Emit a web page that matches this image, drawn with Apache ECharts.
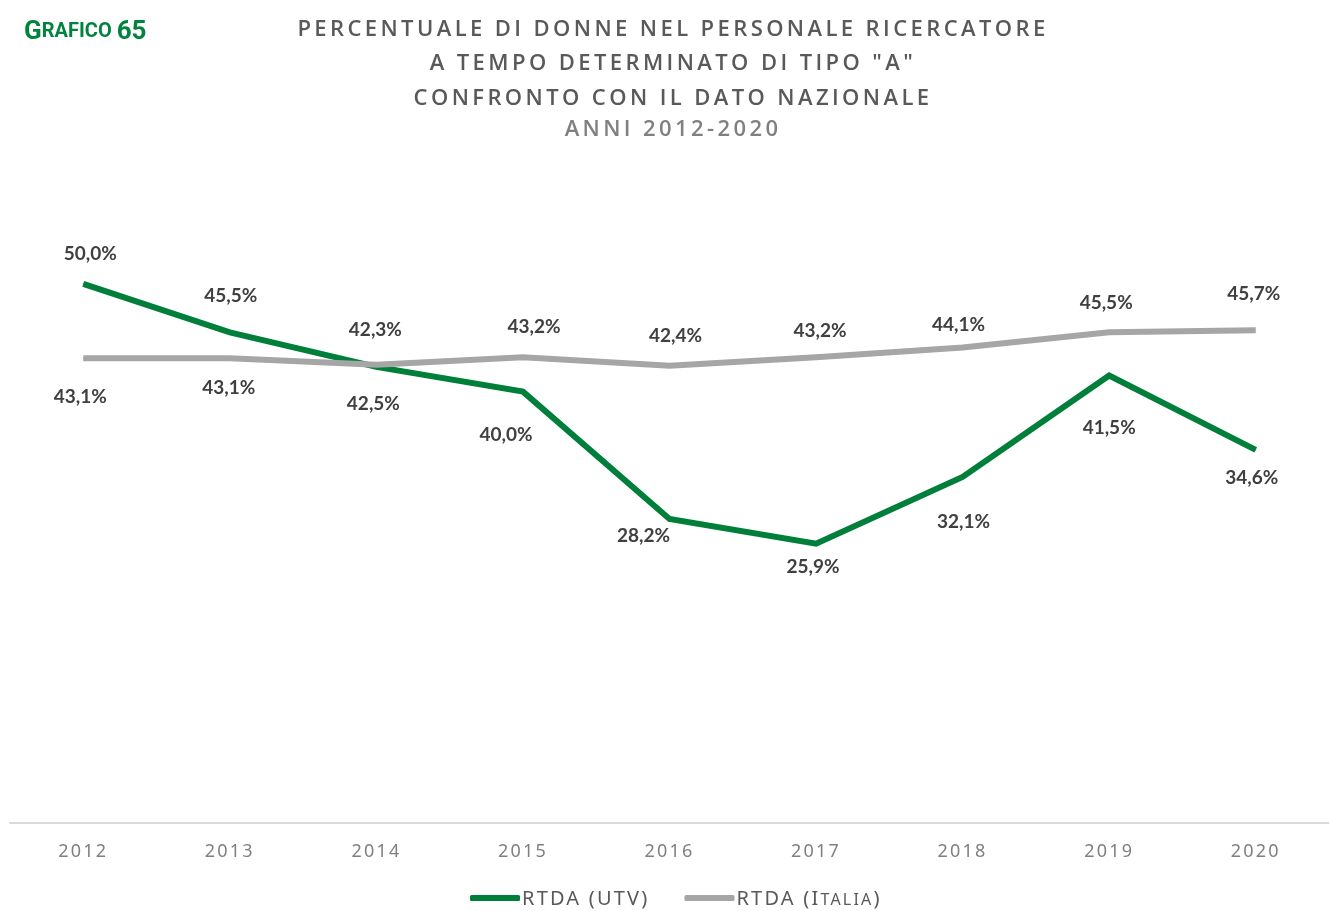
<!DOCTYPE html>
<html><head><meta charset="utf-8">
<script src="https://cdn.jsdelivr.net/npm/echarts@6/dist/echarts.min.js"></script>
<style>html,body{margin:0;padding:0;background:#fff}#c{width:1329px;height:911px}</style>
</head><body><div id="c"></div>
<script>
const years = ['2012','2013','2014','2015','2016','2017','2018','2019','2020'];
const utv = [50.0, 45.5, 42.3, 40.0, 28.2, 25.9, 32.1, 41.5, 34.6];
const italia = [43.1, 43.1, 42.5, 43.2, 42.4, 43.2, 44.1, 45.5, 45.7];
const seriesNames = ['RTDA (UTV)', 'RTDA (Italia)'];
const titleLines = ['PERCENTUALE DI DONNE NEL PERSONALE RICERCATORE', 'A TEMPO DETERMINATO DI TIPO "A"', 'CONFRONTO CON IL DATO NAZIONALE'];
const subtitle = 'ANNI 2012-2020';

// label placement offsets in px relative to the point (style only)
const utvLabelOffset = [[7,-30],[1,-36],[-1,-37],[-17,43],[-26,17],[-3,23],[1,45],[0,52],[-4,28]];
const itaLabelOffset = [[-3,39],[-1,30],[-3,39],[11,-30],[6,-30],[4,-26],[-4,-23],[-3,-29],[-2,-36]];

// letter spacing emulation for specific font families
(function(){
  const map = [['Open Sans','3.4px'],['Noto Sans','2.2px']];
  const ls = f => { for (const [k,v] of map) if (f.indexOf(k) >= 0) return v; return '0px'; };
  const P = CanvasRenderingContext2D.prototype;
  if (!('letterSpacing' in P)) return;
  const oF = P.fillText, oM = P.measureText;
  P.fillText = function(t,x,y,w){ const p=this.letterSpacing; this.letterSpacing=ls(this.font);
    const r = (w===undefined) ? oF.call(this,t,x,y) : oF.call(this,t,x,y,w); this.letterSpacing=p; return r; };
  P.measureText = function(t){ const p=this.letterSpacing; this.letterSpacing=ls(this.font);
    const r = oM.call(this,t); this.letterSpacing=p; return r; };
})();

const GREEN = '#007F3A', GREY = '#A6A6A6';
const fmt = v => v.toFixed(1).replace('.', ',') + '%';
const lblStyle = {fontFamily:'Lato', fontWeight:'bold', fontSize:19, color:'#404040'};
function mk(vals, offs) {
  return vals.map((v,i)=>({value:v, label:Object.assign({show:true, position:'inside', offset:offs[i], formatter:()=>fmt(v)}, lblStyle)}));
}
const legTok = (size) => ({fontFamily:'Noto Sans', fontSize:size, color:'#595959', verticalAlign:'bottom', lineHeight:24, padding:[0,0,0,0]});

const chart = echarts.init(document.getElementById('c'));
chart.setOption({
  animation:false,
  title:[
    {text:'{a|G}{b|RAFICO} {a|65}', left:19, top:14, textStyle:{rich:{
      a:{fontFamily:'Roboto', fontWeight:'bold', fontSize:26, color:'#00843D'},
      b:{fontFamily:'Roboto', fontWeight:'bold', fontSize:20, color:'#00843D'}}}}
  ],
  graphic:[
    {type:'text', x:673, y:12, style:{text:titleLines.join('\n'), align:'center', verticalAlign:'top',
      font:'600 22px "Open Sans"', lineHeight:34.5, fill:'#595959'}},
    {type:'text', x:673, y:115, style:{text:subtitle, align:'center', verticalAlign:'top',
      font:'600 22px "Open Sans"', lineHeight:30, fill:'#808080'}}
  ],
  legend:{
    bottom:-4, left:465, itemWidth:50, itemHeight:6, itemGap:35, icon:'roundRect',
    data:[{name:seriesNames[0], itemStyle:{color:GREEN, opacity:1}}, {name:seriesNames[1], itemStyle:{color:GREY, opacity:1}}],
    formatter: n => n === 'RTDA (Italia)' ? '{n|RTDA (I}{s|TALIA}{n|)}' : '{n|' + n + '}',
    textStyle:{fontFamily:'Noto Sans', fontSize:20, color:'#595959', padding:[0,0,0,-3],
      rich:{n:legTok(20), s:legTok(16)}}
  },
  grid:{left:10, right:-9, top:176, bottom:88},
  xAxis:{type:'category', data:years, boundaryGap:true,
    axisLine:{lineStyle:{color:'#d9d9d9', width:2}}, axisTick:{show:false},
    axisLabel:{fontFamily:'Noto Sans', fontSize:18, color:'#808080', margin:19}},
  yAxis:{type:'value', min:0, max:60, show:false, splitLine:{show:false}},
  series:[
    {name:seriesNames[0], type:'line', data:mk(utv, utvLabelOffset), symbol:'circle', symbolSize:1, showSymbol:true,
      lineStyle:{color:GREEN, width:6, join:'miter'}, itemStyle:{color:GREEN}, z:2},
    {name:seriesNames[1], type:'line', data:mk(italia, itaLabelOffset), symbol:'circle', symbolSize:1, showSymbol:true,
      lineStyle:{color:GREY, width:6, join:'miter'}, itemStyle:{color:GREY}, z:3}
  ]
});
</script></body></html>
